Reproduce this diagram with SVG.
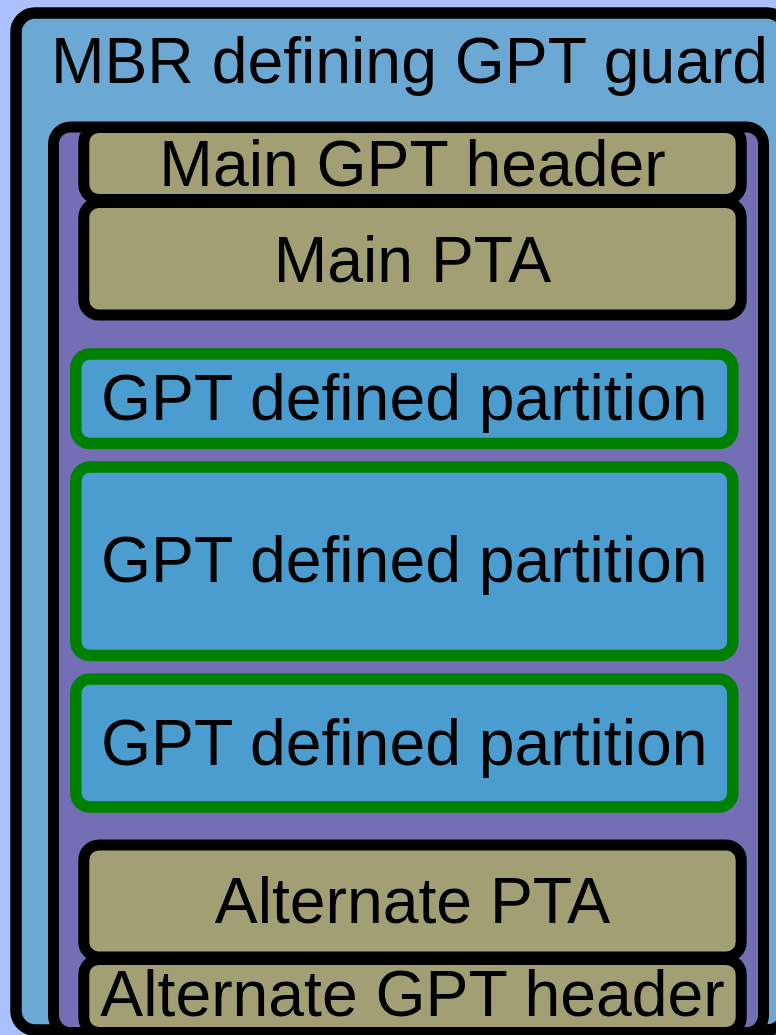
<svg xmlns="http://www.w3.org/2000/svg" width="776" height="1035" viewBox="0 0 776 1035">
  <style>
    .t { font-family: "Liberation Sans", Arial, sans-serif; font-size: 64.3px; fill: #000; text-anchor: middle; }
    .tan { fill: #a29f75; stroke: #000; stroke-width: 11; }
    .part { fill: #4a9dce; stroke: #008000; stroke-width: 11.5; }
  </style>
  <rect width="776" height="1035" fill="#aac0ff"/>
  <g id="mbr">
    <rect x="16" y="13" width="770" height="1017" rx="19" fill="#6ba8d3" stroke="#000" stroke-width="11.5"/>
    <text class="t" x="409.5" y="83">MBR defining GPT guard</text>
  </g>
  <g id="gpt-area">
    <rect x="53.5" y="127" width="710" height="905.5" rx="17" fill="#746fb5" stroke="#000" stroke-width="11"/>
  </g>
  <g id="main-header">
    <rect class="tan" x="83.8" y="127.5" width="657.4" height="72" rx="15"/>
    <text class="t" x="412.5" y="186">Main GPT header</text>
  </g>
  <g id="main-pta">
    <rect class="tan" x="83.8" y="202.5" width="657.4" height="112.5" rx="15"/>
    <text class="t" x="412.5" y="282">Main PTA</text>
  </g>
  <g id="partition-1">
    <rect class="part" x="75.8" y="354" width="657" height="89.5" rx="14"/>
    <text class="t" x="404.3" y="420">GPT defined partition</text>
  </g>
  <g id="partition-2">
    <rect class="part" x="75.8" y="467" width="657" height="188.5" rx="14"/>
    <text class="t" x="404.3" y="582">GPT defined partition</text>
  </g>
  <g id="partition-3">
    <rect class="part" x="75.8" y="679" width="657" height="128" rx="14"/>
    <text class="t" x="404.3" y="765">GPT defined partition</text>
  </g>
  <g id="alt-pta">
    <rect class="tan" x="83.8" y="845" width="657.4" height="112" rx="15"/>
    <text class="t" x="412.5" y="923">Alternate PTA</text>
  </g>
  <g id="alt-header">
    <rect class="tan" x="83.8" y="959.5" width="657.4" height="73" rx="15"/>
    <text class="t" x="412.5" y="1016">Alternate GPT header</text>
  </g>
  <g id="connectors"/>
</svg>
